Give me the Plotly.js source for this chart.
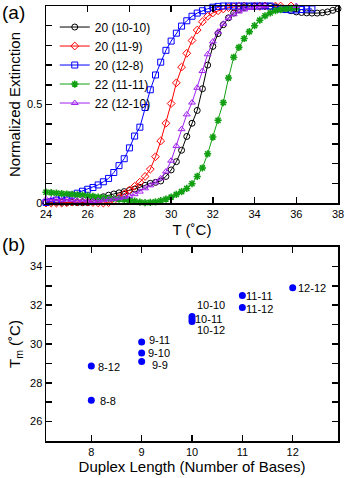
<!DOCTYPE html>
<html>
<head>
<meta charset="utf-8">
<script src="https://cdn.plot.ly/plotly-3.0.1.min.js"></script>
<style>
  body { margin: 0; background: #fff; }
  #myDiv { width: 346px; height: 478px; }
</style>
</head>
<body>
<div id="myDiv"></div>
<script>
var divId = "myDiv";

// (a) melting curves, temperature grid in C
var tempC = [24, 24.25, 24.5, 24.75, 25, 25.25, 25.5, 25.75, 26, 26.25, 26.5, 26.75,
  27, 27.25, 27.5, 27.75, 28, 28.25, 28.5, 28.75, 29, 29.25, 29.5, 29.75,
  30, 30.25, 30.5, 30.75, 31, 31.25, 31.5, 31.75, 32, 32.25, 32.5, 32.75,
  33, 33.25, 33.5, 33.75, 34, 34.25, 34.5, 34.75, 35, 35.25, 35.5, 35.75,
  36, 36.25, 36.5, 36.75, 37, 37.25, 37.5, 37.75, 38];

var ext_20_10_10 = [0.005, 0.005, 0.004, 0.004, 0.003, 0.003, 0.002, 0.002, 0.002, 0.010, 0.024, 0.032,
  0.040, 0.046, 0.052, 0.058, 0.064, 0.071, 0.080, 0.090, 0.100, 0.105, 0.112, 0.135,
  0.168, 0.210, 0.268, 0.338, 0.405, 0.470, 0.580, 0.700, 0.795, 0.860, 0.905, 0.940,
  0.964, 0.982, 0.992, 0.997, 0.999, 1.000, 1.000, 0.998, 0.995, 0.990, 0.983, 0.976,
  0.970, 0.967, 0.965, 0.964, 0.964, 0.966, 0.970, 0.978, 0.986];

var ext_20_11_9 = [0, 0, 0, 0, 0.002, 0.005, 0.006, 0.006, 0.005, 0.003, 0.001, 0,
  0.002, 0.012, 0.028, 0.046, 0.066, 0.085, 0.106, 0.135, 0.172, 0.235, 0.315, 0.405,
  0.505, 0.610, 0.690, 0.760, 0.825, 0.878, 0.920, 0.948, 0.965, 0.976, 0.985, 0.992,
  0.996, 0.998, 1.000, 1.002, 1.000, 0.998, 1.000, 1.003, 1.000, 1.000, 1.002, 1.000];

var ext_20_12_8 = [0.003, 0.008, 0.015, 0.022, 0.032, 0.040, 0.050, 0.060, 0.070, 0.079, 0.092, 0.108,
  0.125, 0.155, 0.190, 0.225, 0.280, 0.340, 0.385, 0.485, 0.575, 0.650, 0.715, 0.775,
  0.822, 0.862, 0.898, 0.925, 0.948, 0.964, 0.976, 0.986, 0.994, 0.998, 1.000, 1.000,
  1.000, 1.000, 1.000, 1.000, 1.000, 1.000, 1.000, 1.000, 0.990, 0.985, 0.982, 0.980,
  0.980, 0.982, 0.985, 0.985];

var ext_22_11_11 = [0.055, 0.053, 0.050, 0.048, 0.046, 0.044, 0.042, 0.040, 0.037, 0.034, 0.030, 0.027,
  0.024, 0.022, 0.020, 0.018, 0.015, 0.010, 0.005, 0.002, 0.003, 0.006, 0.012, 0.020,
  0.030, 0.044, 0.058, 0.074, 0.098, 0.135, 0.178, 0.250, 0.335, 0.420, 0.510, 0.635,
  0.740, 0.790, 0.835, 0.870, 0.900, 0.928, 0.950, 0.965, 0.976, 0.982, 0.986, 0.988,
  0.990];

var ext_22_12_10 = [0.020, 0.018, 0.020, 0.015, 0.018, 0.015, 0.012, 0.015, 0.012, 0.010, 0.012, 0.015,
  0.018, 0.020, 0.025, 0.030, 0.035, 0.045, 0.058, 0.075, 0.090, 0.105, 0.125, 0.160,
  0.215, 0.290, 0.375, 0.450, 0.510, 0.585, 0.670, 0.755, 0.820, 0.870, 0.910, 0.940,
  0.958, 0.972, 0.982, 0.990, 0.995, 0.998, 1.000, 1.003, 1.005, 1.006, 1.008, 1.005,
  1.000];

var seriesNames = ["20 (10-10)", "20 (11-9)", "20 (12-8)", "22 (11-11)", "22 (12-10)"];

// (b) melting temperature vs duplex length
var duplexLength = [8, 8, 9, 9, 9, 10, 10, 10, 11, 11, 12];
var meltTemp = [27.1, 28.87, 29.1, 29.53, 30.1, 31.42, 31.29, 31.16, 32.5, 31.88, 32.9];
var duplexLabels = ["8-8", "8-12", "9-9", "9-10", "9-11", "10-10", "10-11", "10-12", "11-11", "11-12", "12-12"];

// tick labels
var extTicks = [0, 0.5, 1];
var extTickText = ["0", "0.5", "1"];
var tmTicks = [26, 28, 30, 32, 34];
var tmTickText = ["26", "28", "30", "32", "34"];

// label offsets in px (style only)
var labelDx = [8, 6, 9, 5, 6, 4, 2, 4, 3, 3, 4];
var labelDy = [-1, -1, -4, 0, 2, 11, 0, -9, -1, -1, 0];

var curveYs = [ext_20_10_10, ext_20_11_9, ext_20_12_8, ext_22_11_11, ext_22_12_10];
var curveColors = ["#000000", "#ff0000", "#0000ff", "#12a012", "#a020f0"];
var curveSymbols = ["circle-open", "diamond-open", "square-open", "asterisk-open", "triangle-up-open"];

var data = [];
for (var i = 0; i < curveYs.length; i++) {
  data.push({
    x: tempC.slice(0, curveYs[i].length),
    y: curveYs[i],
    name: seriesNames[i],
    type: "scatter",
    mode: "lines+markers",
    xaxis: "x",
    yaxis: "y",
    line: { color: curveColors[i], width: 1 },
    marker: {
      symbol: curveSymbols[i],
      size: 6,
      color: curveColors[i],
      line: { color: curveColors[i], width: i == 3 ? 1.6 : 1 }
    },
    cliponaxis: false
  });
}

data.push({
  x: duplexLength,
  y: meltTemp,
  type: "scatter",
  mode: "markers",
  xaxis: "x2",
  yaxis: "y2",
  showlegend: false,
  marker: { color: "#0000ff", size: 7 }
});

var annotations = duplexLabels.map(function (t, k) {
  return {
    x: duplexLength[k], y: meltTemp[k], xref: "x2", yref: "y2",
    text: t, showarrow: false, xanchor: "left", yanchor: "middle",
    xshift: labelDx[k], yshift: labelDy[k], borderpad: 0,
    font: { size: 11, color: "#000" }
  };
});
annotations.push({
  x: -0.113, y: 0.986, xref: "paper", yref: "paper", text: "(a)",
  showarrow: false, xanchor: "center", yanchor: "middle", font: { size: 19, color: "#000" }
});
annotations.push({
  x: -0.113, y: 0.452, xref: "paper", yref: "paper", text: "(b)",
  showarrow: false, xanchor: "center", yanchor: "middle", font: { size: 19, color: "#000" }
});

var axisStyle = {
  showline: true, linecolor: "#000", linewidth: 1.5, mirror: "allticks",
  ticks: "inside", ticklen: 6, tickwidth: 1.5, tickcolor: "#000",
  showgrid: false, zeroline: false,
  tickfont: { size: 11, color: "#000" }
};

function ax(extra) {
  return Object.assign({}, axisStyle, extra);
}

var layout = {
  width: 346,
  height: 478,
  margin: { l: 46, r: 8, t: 6, b: 37 },
  paper_bgcolor: "#fff",
  plot_bgcolor: "#fff",
  font: { family: "Liberation Sans, Arial, sans-serif", color: "#000" },
  showlegend: true,
  legend: {
    x: 0.03, y: 0.985, xanchor: "left", yanchor: "top",
    bgcolor: "rgba(0,0,0,0)", font: { size: 12 },
    itemwidth: 30, tracegroupgap: 0
  },
  xaxis: ax({
    domain: [0, 1], anchor: "y", range: [24, 38], dtick: 2, tick0: 24,
    title: { text: "T (˚C)", font: { size: 15 }, standoff: 5 }
  }),
  yaxis: ax({
    domain: [0.547, 1], anchor: "x", range: [0, 1],
    tickmode: "array", tickvals: extTicks, ticktext: extTickText,
    minor: { ticks: "inside", dtick: 0.1, tick0: 0, ticklen: 6, tickwidth: 1.5, tickcolor: "#000", showgrid: false },
    title: { text: "Normalized Extinction", font: { size: 15 }, standoff: 2 }
  }),
  xaxis2: ax({
    domain: [0, 1], anchor: "y2", range: [7.1, 12.9], dtick: 1, tick0: 8,
    title: { text: "Duplex Length (Number of Bases)", font: { size: 15 }, standoff: 5 }
  }),
  yaxis2: ax({
    domain: [0, 0.446], anchor: "x2", range: [25, 35],
    tickmode: "array", tickvals: tmTicks, ticktext: tmTickText,
    minor: { ticks: "inside", dtick: 1, tick0: 25, ticklen: 6, tickwidth: 1.5, tickcolor: "#000", showgrid: false },
    title: { text: "T<sub>m</sub> (˚C)", font: { size: 15 }, standoff: 6 }
  }),
  annotations: annotations
};

var display = {
  displayModeBar: false,
  staticPlot: true
};

Plotly.newPlot(divId, data, layout, display);
</script>
</body>
</html>
